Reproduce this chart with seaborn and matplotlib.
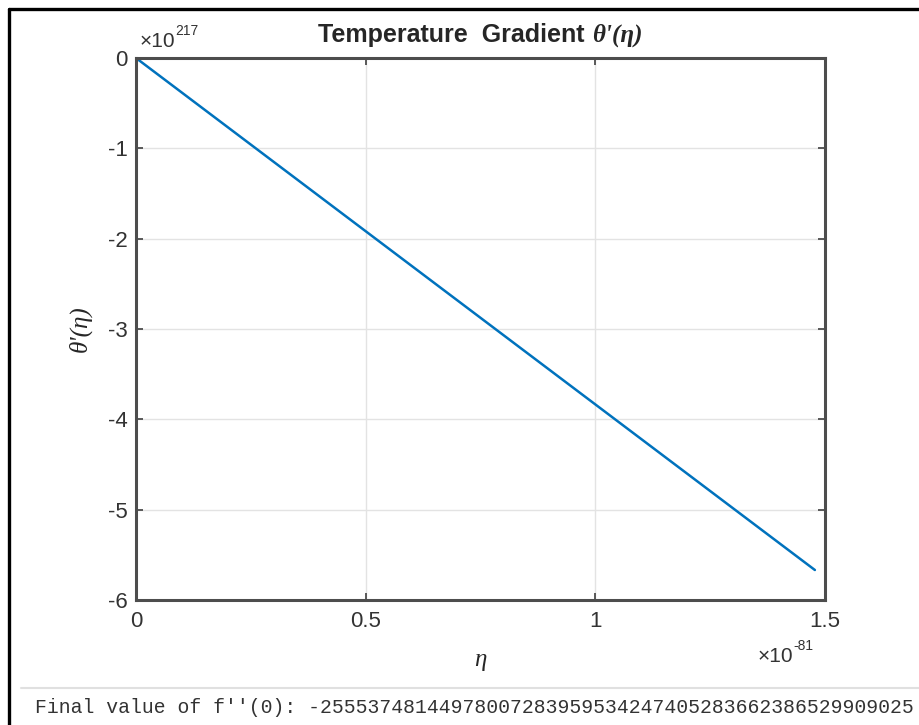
import matplotlib
matplotlib.use("Agg")
import matplotlib.pyplot as plt
import seaborn as sns
import pandas as pd
from matplotlib.lines import Line2D

# ---- data ----
eta_scaled = [0.0, 1.478]         # eta, in units of 1e-81
theta_p_scaled = [0.0, -5.668]    # theta'(eta), in units of 1e217
x_exp = -81
y_exp = 217
x_ticks = [0, 0.5, 1, 1.5]
x_tick_labels = ["0", "0.5", "1", "1.5"]
y_ticks = [0, -1, -2, -3, -4, -5, -6]
y_tick_labels = ["0", "-1", "-2", "-3", "-4", "-5", "-6"]
title_main = "Temperature  Gradient "
title_sym = "\u03b8'(\u03b7)"
x_label = "\u03b7"
y_label = "\u03b8'(\u03b7)"
final_text = "Final value of f''(0): -25553748144978007283959534247405283662386529909025"

sns.set_theme(style="ticks")
plt.rcParams['font.family'] = ['Liberation Sans', 'DejaVu Sans']
SERIF = ["Liberation Serif", "DejaVu Serif"]

W, H = 920, 725
fig = plt.figure(figsize=(W / 100, H / 100), dpi=100)
fig.patch.set_facecolor("white")

L, R, T, B = 136, 825, 58, 600
ax = fig.add_axes([L / W, 1 - B / H, (R - L) / W, (B - T) / H])

df = pd.DataFrame({"eta": eta_scaled, "theta_p": theta_p_scaled})
sns.lineplot(data=df, x="eta", y="theta_p", ax=ax, color="#0072BD", linewidth=1.8)

ax.set_xlim(0, 1.5)
ax.set_ylim(-6, 0)
ax.set_xticks(x_ticks)
ax.set_xticklabels(x_tick_labels)
ax.set_yticks(y_ticks)
ax.set_yticklabels(y_tick_labels)
ax.set_xlabel("")
ax.set_ylabel("")

ax.grid(True, color="#e3e3e3", linewidth=1.0)
ax.set_axisbelow(True)
for s in ax.spines.values():
    s.set_visible(True)
    s.set_color("#4d4d4d")
    s.set_linewidth(2.2)
ax.tick_params(axis="both", which="both", direction="in", length=5, width=1.3,
               color="#4d4d4d", top=True, right=True, labelsize=16,
               labelcolor="#333333")
ax.tick_params(axis="x", pad=8)
ax.tick_params(axis="y", pad=6)

txtcol = "#262626"
# title, centred over the axes
fig.canvas.draw()
r = fig.canvas.get_renderer()
t1 = fig.text(0, 1 - 42 / H, title_main, fontsize=18, fontweight="bold",
              color=txtcol, ha="left", va="baseline")
t2 = fig.text(0, 1 - 42 / H, title_sym, fontsize=18, fontweight="bold",
              fontstyle="italic", family=SERIF, color=txtcol, ha="left", va="baseline")
w1 = t1.get_window_extent(r).width
w2 = t2.get_window_extent(r).width
x0 = (L + R) / 2 - (w1 + w2) / 2
t1.set_x(x0 / W)
t2.set_x((x0 + w1) / W)

# exponent labels (MATLAB style)
ty = fig.text(140 / W, 1 - 47 / H, "\u00d710", fontsize=15, color="#333333",
              ha="left", va="baseline")
ax.annotate(str(y_exp), xy=(1, 1), xycoords=ty, xytext=(0, -4), textcoords="offset points",
            fontsize=10, color="#333333", ha="left", va="bottom", annotation_clip=False)
tx = fig.text(758 / W, 1 - 662 / H, "\u00d710", fontsize=15, color="#333333",
              ha="left", va="baseline")
ax.annotate(str(x_exp), xy=(1, 1), xycoords=tx, xytext=(0, -4), textcoords="offset points",
            fontsize=10, color="#333333", ha="left", va="bottom", annotation_clip=False)

# axis labels
fig.text((L + R) / 2 / W, 1 - 660 / H, x_label, fontsize=18, fontstyle="italic",
         family=SERIF, color=txtcol, ha="center", va="center")
fig.text(80 / W, 1 - (T + B) / 2 / H, y_label, fontsize=18, fontstyle="italic", rotation=90,
         family=SERIF, color=txtcol, ha="center", va="center")

# outer frame lines
fig.add_artist(Line2D([8.5 / W, 8.5 / W], [0, 1 - 8.5 / H], color="black", linewidth=2.4,
                      transform=fig.transFigure))
fig.add_artist(Line2D([8.5 / W, 1], [1 - 8.5 / H, 1 - 8.5 / H], color="black", linewidth=2.4,
                      transform=fig.transFigure))
# separator and console line
fig.add_artist(Line2D([21 / W, 1], [1 - 688 / H, 1 - 688 / H], color="#e0e0e0", linewidth=1.5,
                      transform=fig.transFigure))
fig.text(35 / W, 1 - 713 / H, final_text, fontsize=14.2,
         family=["Liberation Mono", "DejaVu Sans Mono"], color="#333333",
         ha="left", va="baseline")

fig.savefig("out.png", dpi=100)
